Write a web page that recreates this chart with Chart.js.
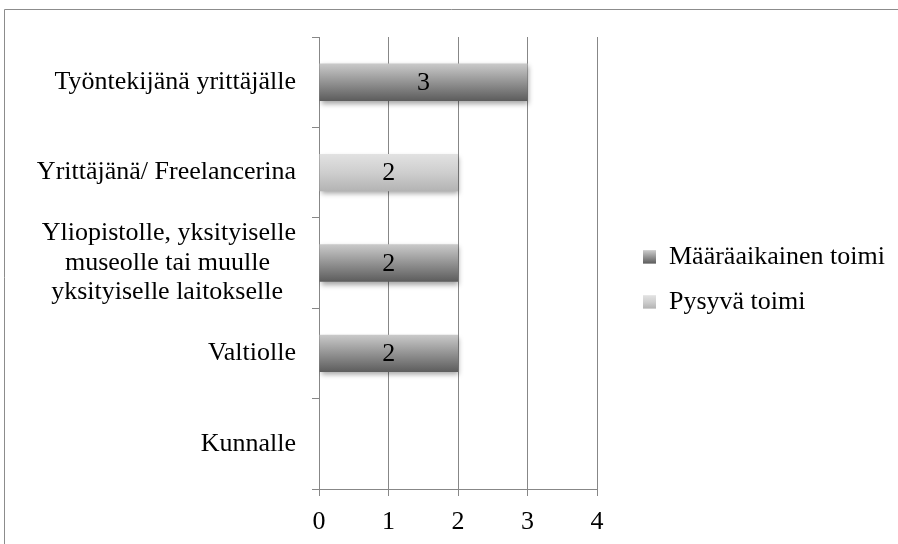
<!DOCTYPE html>
<html>
<head>
<meta charset="utf-8">
<script src="https://cdn.jsdelivr.net/npm/chart.js@4.4.0/dist/chart.umd.min.js"></script>
<style>
  body { margin: 0; background: #fff; overflow: hidden; }
  #wrap { width: 898px; height: 544px; }
</style>
</head>
<body>
<div id="wrap"><canvas id="chart" width="898" height="544"></canvas></div>
<script>
// Chart data
const categories = [
    'Työntekijänä yrittäjälle',
    'Yrittäjänä/ Freelancerina',
    ['Yliopistolle, yksityiselle', 'museolle tai muulle', 'yksityiselle laitokselle'],
    'Valtiolle',
    'Kunnalle'
];
const seriesNames = ['Määräaikainen toimi', 'Pysyvä toimi'];
const maaraaikainen = [3, 0, 2, 2, 0];
const pysyva = [0, 2, 0, 0, 0];
const xTicks = [0, 1, 2, 3, 4];

const FONT = '"Liberation Serif", "Times New Roman", serif';
const FONT_SIZE = 26;
const GRID = '#878787';
const BAR_RATIO = 0.414;
const LEGEND_PAD = 19;
const LEGEND_BOX = 13;

// Gradient stops for each series (top -> bottom)
const darkStops = ['#cacaca', '#939393', '#5c5c5c'];
const lightStops = ['#e2e2e2', '#cecece', '#b3b3b3'];
const seriesStops = [darkStops, lightStops];

function makeGradient(ctx, top, bottom, stops) {
    const g = ctx.createLinearGradient(0, top, 0, bottom);
    g.addColorStop(0, stops[0]);
    g.addColorStop(0.5, stops[1]);
    g.addColorStop(1, stops[2]);
    return g;
}

// Vertical gradient per bar, built from the category scale
function barFill(stops) {
    return function(context) {
        const chart = context.chart;
        const yScale = chart.scales && chart.scales.y;
        if (context.dataIndex === undefined || !yScale || !yScale.height) return stops[1];
        const center = yScale.getPixelForValue(context.dataIndex);
        const half = yScale.height / categories.length * BAR_RATIO / 2;
        return makeGradient(chart.ctx, center - half, center + half, stops);
    };
}

// Pad lines of multi-line labels so they look centred against each other
const measureCtx = document.createElement('canvas').getContext('2d');
measureCtx.font = FONT_SIZE + 'px ' + FONT;
function centreLines(label) {
    if (!Array.isArray(label)) return label;
    const space = measureCtx.measureText(' ').width;
    const widths = label.map(l => measureCtx.measureText(l).width);
    const maxW = Math.max(...widths);
    return label.map((l, i) => l + ' '.repeat(Math.round((maxW - widths[i]) / 2 / space)));
}

// legend should start at x = 624 (box at 643)
const legendTextW = Math.max(...seriesNames.map(s => measureCtx.measureText(s).width));
const legendW = LEGEND_PAD + LEGEND_BOX + FONT_SIZE / 2 + legendTextW + 10;
const padRight = Math.max(0, 898 - 624 - legendW);

// Outer frame, bar shadows, value labels and legend box gradients
const decorPlugin = {
    id: 'decor',
    beforeDraw(chart) {
        const ctx = chart.ctx;
        ctx.save();
        ctx.strokeStyle = '#8c8c8c';
        ctx.lineWidth = 1;
        ctx.beginPath();
        ctx.moveTo(4.5, 600);
        ctx.lineTo(4.5, 9.5);
        ctx.lineTo(950, 9.5);
        ctx.stroke();
        ctx.restore();
    },
    beforeDatasetsDraw(chart) {
        const ctx = chart.ctx;
        ctx.save();
        ctx.shadowColor = 'rgba(0, 0, 0, 0.35)';
        ctx.shadowBlur = 5;
        ctx.shadowOffsetX = 1;
        ctx.shadowOffsetY = 3;
    },
    afterDatasetsDraw(chart) {
        const ctx = chart.ctx;
        ctx.restore();
        ctx.save();
        ctx.font = FONT_SIZE + 'px ' + FONT;
        ctx.fillStyle = '#000';
        ctx.textAlign = 'center';
        ctx.textBaseline = 'middle';
        chart.data.datasets.forEach((ds, i) => {
            const meta = chart.getDatasetMeta(i);
            meta.data.forEach((bar, j) => {
                const v = ds.data[j];
                if (!v) return;
                ctx.fillText(String(v), (bar.x + bar.base) / 2, bar.y + 1);
            });
        });
        ctx.restore();
    },
    afterDraw(chart) {
        const legend = chart.legend;
        if (!legend || !legend.legendHitBoxes) return;
        const ctx = chart.ctx;
        const offset = Math.max((FONT_SIZE - LEGEND_BOX) / 2, 0);
        legend.legendHitBoxes.forEach((hb, i) => {
            const top = hb.top + offset;
            ctx.fillStyle = '#fff';
            ctx.fillRect(hb.left, top, LEGEND_BOX, LEGEND_BOX);
            ctx.fillStyle = makeGradient(ctx, top, top + LEGEND_BOX, seriesStops[i]);
            ctx.fillRect(hb.left, top, LEGEND_BOX, LEGEND_BOX);
        });
    }
};

const chart = new Chart(document.getElementById('chart').getContext('2d'), {
    type: 'bar',
    data: {
        labels: categories,
        datasets: [{
            label: seriesNames[0],
            data: maaraaikainen,
            backgroundColor: barFill(darkStops),
            borderWidth: 0
        }, {
            label: seriesNames[1],
            data: pysyva,
            backgroundColor: barFill(lightStops),
            borderWidth: 0
        }]
    },
    options: {
        indexAxis: 'y',
        responsive: false,
        animation: false,
        barPercentage: BAR_RATIO,
        categoryPercentage: 1,
        layout: {
            padding: { top: 20, left: 0, right: padRight, bottom: 5 }
        },
        scales: {
            x: {
                stacked: true,
                min: xTicks[0],
                max: xTicks[xTicks.length - 1],
                afterBuildTicks(scale) {
                    scale.ticks = xTicks.map(v => ({ value: v }));
                },
                afterFit(scale) { scale.height = 50; },
                grid: { color: GRID, lineWidth: 1, drawTicks: true, tickLength: 7 },
                border: { display: true, color: GRID, width: 1 },
                ticks: {
                    color: '#000',
                    padding: 11,
                    font: { family: FONT, size: FONT_SIZE }
                }
            },
            xPad: {
                axis: 'x',
                type: 'linear',
                position: 'top',
                display: true,
                afterFit(scale) { scale.height = 17; },
                grid: { display: false },
                border: { display: false },
                ticks: { display: false }
            },
            y: {
                stacked: true,
                afterFit(scale) { scale.width = 319; },
                grid: {
                    offset: true,
                    drawOnChartArea: false,
                    drawTicks: true,
                    tickLength: 7,
                    color: GRID
                },
                border: { display: true, color: GRID, width: 1 },
                ticks: {
                    color: '#000',
                    padding: 16,
                    autoSkip: false,
                    font: { family: FONT, size: FONT_SIZE, lineHeight: 1.13 },
                    callback(value) { return centreLines(categories[value]); }
                }
            },
            yPad: {
                axis: 'y',
                type: 'linear',
                position: 'right',
                display: true,
                afterFit(scale) { scale.width = 27; },
                grid: { display: false },
                border: { display: false },
                ticks: { display: false }
            }
        },
        plugins: {
            legend: {
                position: 'right',
                maxWidth: 400,
                labels: {
                    color: '#000',
                    boxWidth: LEGEND_BOX,
                    boxHeight: LEGEND_BOX,
                    padding: LEGEND_PAD,
                    font: { family: FONT, size: FONT_SIZE }
                }
            },
            tooltip: { enabled: false }
        }
    },
    plugins: [decorPlugin]
});
</script>
</body>
</html>
